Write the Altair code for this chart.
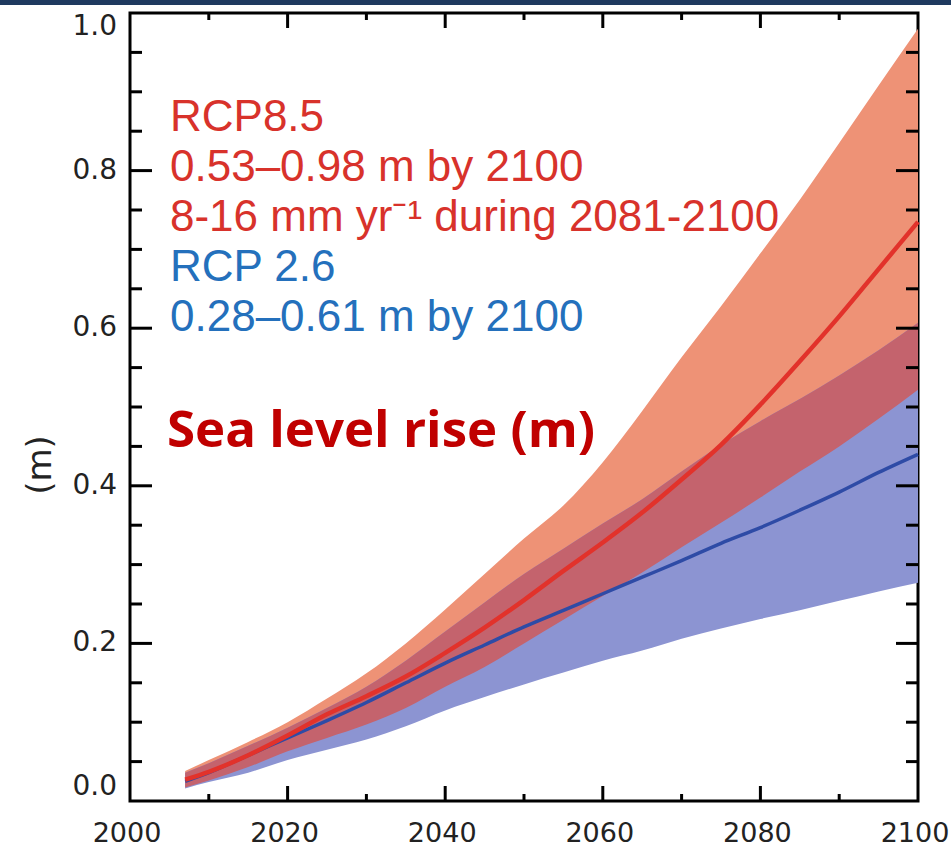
import altair as alt
import pandas as pd

# ---------------- data ----------------
years = [2007, 2010, 2015, 2020, 2025, 2030, 2035, 2040, 2045, 2050,
         2055, 2060, 2065, 2070, 2075, 2080, 2085, 2090, 2095, 2100]

rcp85_mid = [.027, .037, .058, .083, .110, .133, .158, .188, .220, .255,
             .292, .328, .366, .408, .452, .503, .558, .615, .675, .735]
rcp85_hi = [.038, .052, .075, .100, .130, .162, .200, .243, .288, .333,
            .375, .430, .495, .563, .628, .695, .763, .835, .908, .980]
rcp85_lo = [.017, .026, .043, .063, .080, .097, .118, .145, .170, .200,
            .230, .260, .290, .322, .353, .385, .418, .450, .485, .522]

rcp26_mid = [.025, .036, .058, .080, .102, .125, .150, .175, .198, .221,
             .242, .263, .284, .305, .327, .347, .369, .392, .417, .440]
rcp26_hi = [.036, .048, .070, .093, .118, .145, .178, .215, .252, .288,
            .320, .352, .383, .418, .452, .482, .510, .540, .572, .607]
rcp26_lo = [.016, .024, .036, .052, .065, .078, .095, .115, .132, .148,
            .163, .178, .191, .206, .219, .231, .242, .254, .266, .277]

x_label_values = [2000, 2020, 2040, 2060, 2080, 2100]
x_major_ticks = [2020, 2040, 2060, 2080]
x_minor_ticks = [2010, 2030, 2050, 2070, 2090]
y_label_mid = [0.2, 0.4, 0.6, 0.8]
y_label_top = [1.0]
y_label_bottom = [0.0]
y_major_ticks = [0.2, 0.4, 0.6, 0.8]
y_minor_ticks = [0.05, 0.10, 0.15, 0.25, 0.30, 0.35, 0.45, 0.50, 0.55,
                 0.65, 0.70, 0.75, 0.85, 0.90, 0.95]

red_lines = ["RCP8.5", "0.53\u20130.98 m by 2100", "8-16 mm yr\u207b\u00b9 during 2081-2100"]
blue_lines = ["RCP 2.6", "0.28\u20130.61 m by 2100"]
big_label = "Sea level rise (m)"
y_title = "(m)"

# ---------------- styles ----------------
SALMON = "#EE9276"
BLUEBAND = "#8C94D2"
MAUVE = "#C4636D"
RED = "#E2322B"
BLUE = "#2E4BA6"
TXT_RED = "#D8322B"
TXT_BLUE = "#2470BC"
LABEL = "#222222"

W, H = 788, 788

df = pd.DataFrame({
    "year": years,
    "r85_mid": rcp85_mid, "r85_hi": rcp85_hi, "r85_lo": rcp85_lo,
    "r26_mid": rcp26_mid, "r26_hi": rcp26_hi, "r26_lo": rcp26_lo,
})
df["ov_lo"] = df[["r85_lo", "r26_lo"]].max(axis=1)
df["ov_hi"] = df[["r85_hi", "r26_hi"]].min(axis=1)

xs = alt.Scale(domain=[2000, 2100], nice=False, zero=False)
ys = alt.Scale(domain=[0, 1], nice=False)

base = alt.Chart(df)
X = alt.X("year:Q", scale=xs, axis=None)

band85 = base.mark_area(color=SALMON, opacity=1, interpolate="monotone").encode(
    x=X, y=alt.Y("r85_lo:Q", scale=ys, axis=None), y2="r85_hi:Q")
band26 = base.mark_area(color=BLUEBAND, opacity=1, interpolate="monotone").encode(
    x=X, y=alt.Y("r26_lo:Q", scale=ys, axis=None), y2="r26_hi:Q")
bandov = base.mark_area(color=MAUVE, opacity=1, interpolate="monotone").encode(
    x=X, y=alt.Y("ov_lo:Q", scale=ys, axis=None), y2="ov_hi:Q")
line26 = base.mark_line(color=BLUE, strokeWidth=3.5, interpolate="monotone").encode(
    x=X, y=alt.Y("r26_mid:Q", scale=ys, axis=None))
line85 = base.mark_line(color=RED, strokeWidth=4.5, interpolate="monotone").encode(
    x=X, y=alt.Y("r85_mid:Q", scale=ys, axis=None))

def yticks(vals, x0, x1):
    return alt.Chart(pd.DataFrame({"v": vals})).mark_rule(
        color="black", strokeWidth=3).encode(
        y=alt.Y("v:Q", scale=ys, axis=None), x=alt.value(x0), x2=alt.value(x1))

def xticks(vals, y0, y1):
    return alt.Chart(pd.DataFrame({"v": vals})).mark_rule(
        color="black", strokeWidth=3).encode(
        x=alt.X("v:Q", scale=xs, axis=None), y=alt.value(y0), y2=alt.value(y1))

ticks = [
    yticks(y_major_ticks, 0, 22), yticks(y_minor_ticks, 0, 12),
    yticks(y_major_ticks, W, W - 22), yticks(y_minor_ticks, W, W - 12),
    xticks(x_major_ticks, H, H - 15), xticks(x_minor_ticks, H, H - 7),
    xticks(x_major_ticks, 0, 15), xticks(x_minor_ticks, 0, 7),
]

# tick labels (drawn through the scales)
def ylabels(vals, baseline):
    return alt.Chart(pd.DataFrame({"v": vals})).mark_text(
        align="right", baseline=baseline, font="DejaVu Sans", fontSize=28,
        color=LABEL).encode(
        y=alt.Y("v:Q", scale=ys, axis=None), x=alt.value(-13),
        text=alt.Text("v:Q", format=".1f"))

xlabels = alt.Chart(pd.DataFrame({"v": x_label_values})).mark_text(
    align="center", baseline="alphabetic", font="DejaVu Sans", fontSize=27,
    color=LABEL, dx=-3).encode(
    x=alt.X("v:Q", scale=xs, axis=None), y=alt.value(H + 41),
    text=alt.Text("v:Q", format="d"))

labels = [ylabels(y_label_mid, "middle"), ylabels(y_label_top, "top"),
          ylabels(y_label_bottom, "bottom"), xlabels]

def text_layer(s, x, y, color, size, font="Liberation Sans", weight="normal",
               baseline="middle", angle=0, align="left"):
    return alt.Chart(pd.DataFrame({"t": [s]})).mark_text(
        align=align, baseline=baseline, font=font, fontSize=size,
        fontWeight=weight, color=color, angle=angle).encode(
        text="t:N", x=alt.value(x), y=alt.value(y))

texts = []
for i, s in enumerate(red_lines):
    texts.append(text_layer(s, 40, 105 + 50 * i, TXT_RED, 44))
for i, s in enumerate(blue_lines):
    texts.append(text_layer(s, 40, 255 + 50 * i, TXT_BLUE, 44))
texts.append(text_layer(big_label, 37, 434, "#C00000", 51, font="Open Sans",
                        weight="bold", baseline="alphabetic"))
texts.append(text_layer(y_title, -89, 452, LABEL, 34, font="DejaVu Sans",
                        angle=270, align="center"))

topbar = alt.Chart(pd.DataFrame({"t": [0]})).mark_rule(
    color="#1F3A5F", strokeWidth=5).encode(
    x=alt.value(-130), x2=alt.value(821), y=alt.value(-10.5))

chart = alt.layer(band85, band26, bandov, line26, line85, *ticks, *labels,
                  *texts, topbar).properties(
    width=W, height=H,
    autosize=alt.AutoSizeParams(type="none"),
    padding={"left": 130, "top": 13, "right": 33, "bottom": 48},
    background="white",
).configure_view(stroke="black", strokeWidth=3)

chart.save("out.html", embed_options={"renderer": "svg", "actions": False})
